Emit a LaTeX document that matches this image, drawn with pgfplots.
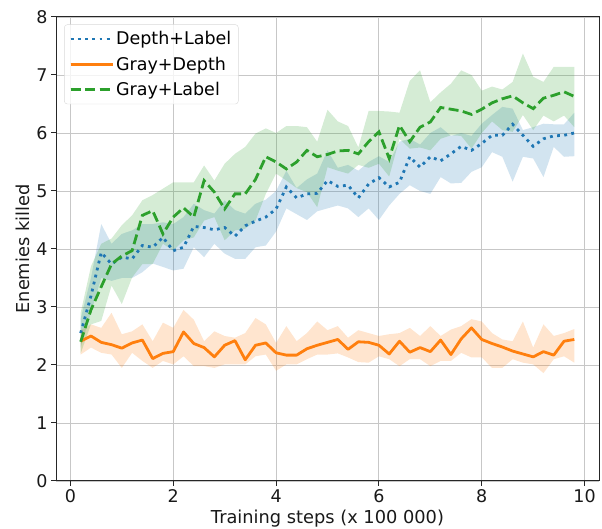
\documentclass[border=0pt]{standalone}
\usepackage{pgfplots}
\pgfplotsset{compat=1.18}
\usepackage{pgfplotstable}
\usepgfplotslibrary{fillbetween}
\usepackage{fontspec}
\setmainfont{DejaVu Sans}
\definecolor{cblue}{HTML}{1F77B4}
\definecolor{corange}{HTML}{FF7F0E}
\definecolor{cgreen}{HTML}{2CA02C}

\pgfplotstableread{
x m lo hi
0.2 2.55 2.30 2.80
0.4 3.19 2.90 3.50
0.6 3.94 3.50 4.43
0.8 3.74 3.45 4.09
1.0 3.86 3.50 4.26
1.2 3.83 3.50 4.32
1.4 4.06 3.60 4.43
1.6 4.03 3.75 4.43
1.8 4.20 3.69 4.46
2.0 3.97 3.63 4.43
2.2 4.03 3.66 4.55
2.4 4.39 4.03 4.78
2.6 4.37 3.86 4.67
2.8 4.33 4.09 4.61
3.0 4.37 3.92 4.84
3.2 4.22 3.83 4.67
3.4 4.40 3.83 4.61
3.6 4.48 4.03 4.78
3.8 4.55 4.06 4.85
4.0 4.69 4.30 5.00
4.2 5.07 4.70 5.35
4.4 4.88 4.60 5.05
4.6 4.95 4.50 5.20
4.8 4.96 4.65 5.30
5.0 5.18 4.70 5.70
5.2 5.08 4.75 5.40
5.4 5.10 4.70 5.45
5.6 4.88 4.55 5.35
5.8 5.12 4.70 5.50
6.0 5.23 4.50 5.60
6.2 5.07 4.75 5.50
6.4 5.15 4.95 5.85
6.6 5.59 5.10 5.90
6.8 5.41 5.00 5.80
7.0 5.59 4.95 6.00
7.2 5.52 5.24 6.10
7.4 5.64 5.13 5.95
7.6 5.77 5.14 6.00
7.8 5.70 5.33 5.95
8.0 5.82 5.41 6.16
8.2 5.96 5.67 6.31
8.4 5.96 5.59 6.45
8.6 6.15 5.16 6.42
8.8 5.96 5.59 6.05
9.0 5.77 5.56 6.10
9.2 5.90 5.24 6.16
9.4 5.95 5.76 6.15
9.6 5.96 5.59 6.15
9.8 6.00 5.60 6.35
}\blue

\pgfplotstableread{
x m lo hi
0.2 2.41 2.18 2.60
0.4 2.50 2.30 2.70
0.6 2.39 2.21 2.64
0.8 2.35 2.18 2.90
1.0 2.29 1.95 2.53
1.2 2.38 2.21 2.58
1.4 2.43 2.07 2.70
1.6 2.11 1.95 2.41
1.8 2.20 2.07 2.73
2.0 2.23 2.01 2.64
2.2 2.57 2.15 2.95
2.4 2.37 1.98 2.78
2.6 2.30 1.98 2.41
2.8 2.14 1.95 2.58
3.0 2.34 2.01 2.50
3.2 2.42 2.01 2.47
3.4 2.09 2.01 2.55
3.6 2.34 2.15 2.81
3.8 2.38 2.18 2.70
4.0 2.21 1.90 2.38
4.2 2.17 2.01 2.67
4.4 2.17 2.01 2.41
4.6 2.28 2.10 2.55
4.8 2.34 2.18 2.75
5.0 2.39 2.18 2.60
5.2 2.44 2.20 2.67
5.4 2.27 2.13 2.47
5.6 2.40 2.05 2.60
5.8 2.39 2.04 2.55
6.0 2.34 2.15 2.50
6.2 2.19 2.10 2.53
6.4 2.41 1.98 2.55
6.6 2.22 2.10 2.64
6.8 2.30 2.10 2.50
7.0 2.23 1.98 2.67
7.2 2.43 2.07 2.50
7.4 2.18 2.07 2.61
7.6 2.45 2.21 2.67
7.8 2.64 2.13 2.79
8.0 2.44 2.13 2.75
8.2 2.37 1.95 2.55
8.4 2.31 1.95 2.44
8.6 2.24 2.10 2.41
8.8 2.19 2.04 2.75
9.0 2.14 2.01 2.30
9.2 2.23 1.86 2.70
9.4 2.17 2.10 2.50
9.6 2.41 2.15 2.55
9.8 2.44 2.04 2.62
}\orange

\pgfplotstableread{
x m lo hi
0.2 2.40 2.20 2.90
0.4 2.95 2.70 3.70
0.6 3.35 2.76 4.09
0.8 3.74 3.37 4.18
1.0 3.88 3.05 4.41
1.2 3.97 3.51 4.58
1.4 4.58 3.74 4.84
1.6 4.66 3.74 4.93
1.8 4.26 4.09 5.04
2.0 4.55 3.97 5.15
2.2 4.71 4.15 5.15
2.4 4.55 4.20 5.15
2.6 5.18 4.49 5.44
2.8 4.98 4.55 5.18
3.0 4.69 4.15 5.47
3.2 4.95 4.32 5.64
3.4 4.95 4.35 5.76
3.6 5.20 4.49 5.99
3.8 5.59 4.95 6.08
4.0 5.50 5.30 6.00
4.2 5.38 5.18 6.12
4.4 5.50 5.05 6.12
4.6 5.70 4.98 6.10
4.8 5.59 4.72 5.85
5.0 5.63 5.41 6.40
5.2 5.69 5.35 6.20
5.4 5.70 5.30 6.12
5.6 5.64 5.45 5.75
5.8 5.85 5.40 6.38
6.0 6.02 5.47 6.38
6.2 5.56 5.25 6.37
6.4 6.13 5.90 6.35
6.6 5.85 5.73 6.90
6.8 6.10 5.75 7.08
7.0 6.19 5.70 6.53
7.2 6.44 5.90 6.70
7.4 6.41 5.96 6.85
7.6 6.38 5.95 7.08
7.8 6.32 5.73 7.00
8.0 6.41 6.00 6.73
8.2 6.52 6.20 6.80
8.4 6.59 6.05 6.75
8.6 6.64 6.02 6.88
8.8 6.52 6.31 7.37
9.0 6.42 6.05 6.97
9.2 6.60 6.30 6.88
9.4 6.65 6.20 7.14
9.6 6.71 6.30 7.14
9.8 6.63 6.10 7.14
}\green

\begin{document}
\begin{tikzpicture}
\begin{axis}[
  name=ax,
  scale only axis,
  width=543pt, height=464pt,
  xmin=-0.28, xmax=10.28, ymin=0, ymax=8,
  xtick={0,2,4,6,8,10}, ytick={0,1,2,3,4,5,6,7,8},
  xtick pos=bottom, ytick pos=left,
  tick align=outside, major tick length=5pt,
  tick style={black!85, line width=1pt},
  axis line style={black!85, line width=1pt},
  grid=major,
  grid style={black!22, line width=0.9pt},
  /pgf/number format/assume math mode=true,
  ticklabel style={font=\fontsize{17.5}{20}\selectfont, text=black!90},
  label style={font=\fontsize{17.8}{20}\selectfont, text=black!90},
  xlabel={Training steps (x 100 000)},
  ylabel={Enemies killed},
  legend style={at={(0.015,0.984)}, anchor=north west, draw=black!15,
    rounded corners=3pt, fill=white, fill opacity=0.8, text opacity=1,
    font=\fontsize{17.5}{20}\selectfont, row sep=6.5pt, inner xsep=5pt, inner ysep=5pt},
  legend cell align=left,
  legend image code/.code={\draw[#1] (0pt,0pt) -- (35pt,0pt); \path (0pt,0pt) -- (42pt,0pt);},
]
\addplot[draw=none, name path=bu, forget plot] table[x=x,y=hi]{\blue};
\addplot[draw=none, name path=bl, forget plot] table[x=x,y=lo]{\blue};
\addplot[cblue, fill opacity=0.2, draw=none, forget plot] fill between[of=bu and bl];
\addplot[draw=none, name path=ou, forget plot] table[x=x,y=hi]{\orange};
\addplot[draw=none, name path=ol, forget plot] table[x=x,y=lo]{\orange};
\addplot[corange, fill opacity=0.2, draw=none, forget plot] fill between[of=ou and ol];
\addplot[draw=none, name path=gu, forget plot] table[x=x,y=hi]{\green};
\addplot[draw=none, name path=gl, forget plot] table[x=x,y=lo]{\green};
\addplot[cgreen, fill opacity=0.2, draw=none, forget plot] fill between[of=gu and gl];

\addplot[cblue, line width=2.8pt, dash pattern=on 2.8pt off 4.4pt, line cap=butt] table[x=x,y=m]{\blue};
\addlegendentry{Depth+Label}
\addplot[corange, line width=2.8pt, line join=round] table[x=x,y=m]{\orange};
\addlegendentry{Gray+Depth}
\addplot[cgreen, line width=2.8pt, dash pattern=on 10pt off 4.4pt] table[x=x,y=m]{\green};
\addlegendentry{Gray+Label}
\end{axis}
\pgfresetboundingbox
\path ([shift={(-56pt,-48pt)}]ax.south west) rectangle ([shift={(3pt,17pt)}]ax.north east);
\end{tikzpicture}
\end{document}
